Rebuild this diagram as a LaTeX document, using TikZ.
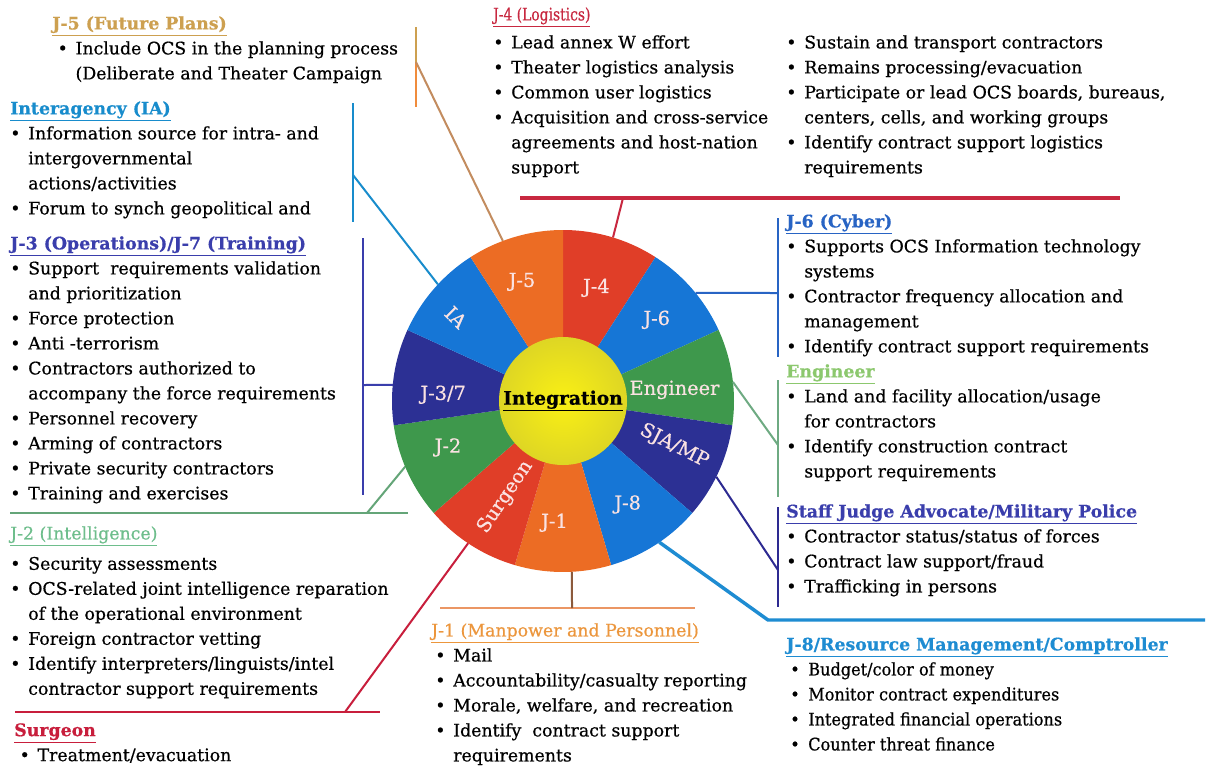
\documentclass[tikz,border=0pt]{standalone}
\usepackage{fontspec}
\setmainfont{DejaVu Serif}[FakeBold=0.6]
\newfontfamily\condfont{DejaVu Serif}[FakeStretch=0.93, FakeBold=0.6]
\newfontfamily\squeezefont{DejaVu Serif}[FakeStretch=0.8, FakeBold=0.6]
\usetikzlibrary{calc}

% wheel colours
\definecolor{segred}{RGB}{224,62,40}
\definecolor{segorange}{RGB}{236,108,36}
\definecolor{segsky}{RGB}{22,118,214}
\definecolor{segnavy}{RGB}{44,48,148}
\definecolor{seggreen}{RGB}{62,152,76}
\definecolor{wlabel}{RGB}{250,226,226}
% heading and line colours
\definecolor{plangold}{RGB}{205,160,80}
\definecolor{planorange}{RGB}{240,140,60}
\definecolor{planbrown}{RGB}{195,140,95}
\definecolor{iablue}{RGB}{24,140,204}
\definecolor{opsindigo}{RGB}{58,62,172}
\definecolor{intelmint}{RGB}{110,190,140}
\definecolor{intelgreen}{RGB}{100,165,120}
\definecolor{surgred}{RGB}{200,30,60}
\definecolor{logred}{RGB}{200,40,64}
\definecolor{cyberblue}{RGB}{40,100,196}
\definecolor{engleaf}{RGB}{140,200,110}
\definecolor{enggreen}{RGB}{110,170,130}
\definecolor{sjanavy}{RGB}{45,42,145}
\definecolor{finblue}{RGB}{30,140,210}
\definecolor{manamber}{RGB}{236,150,60}
\definecolor{manbrown}{RGB}{140,90,60}
\definecolor{mansalmon}{RGB}{235,150,100}

\newcommand{\bl}{\makebox[13.5pt][l]{\textbullet}}
\newcommand{\ind}{\hspace*{13.5pt}}
\newcommand{\head}[2]{\textcolor{#1}{\underline{#2}}}
\newcommand{\bhead}[2]{\textcolor{#1}{\underline{\bfseries #2}}}

\begin{document}
\begin{tikzpicture}[x=0.75pt, y=-0.75pt,
  block/.style={anchor=north west, align=left, inner sep=0pt,
    font=\fontsize{13}{18.75}\selectfont},
  narrow/.style={block, font=\condfont\fontsize{13}{18.75}\selectfont},
  wedge label/.style={text=wlabel, inner sep=0pt,
    font=\fontsize{14.5}{16}\selectfont},
  link/.style={line width=1.5pt},
  heavy link/.style={line width=2.6pt}]

  \fill[white] (0,0) rectangle (1209,768);
  \useasboundingbox (0,0) rectangle (1209,768);

  % the wheel: eleven wedges, clockwise from the top
  \coordinate (hub) at (563,401);
  \foreach \col [count=\i from 0] in {segred,segsky,seggreen,segnavy,segsky,
      segorange,segred,seggreen,segnavy,segsky,segorange} {
    \fill[\col] (hub) -- ($(hub)+({-90+\i*360/11}:171)$)
      arc[start angle={-90+\i*360/11}, delta angle={360/11}, radius=171] -- cycle;
  }
  \shade[inner color={rgb,255:red,250;green,240;blue,20},
    outer color={rgb,255:red,222;green,214;blue,36}] (hub) circle[radius=64];
  \node[font=\bfseries\fontsize{14}{16}\selectfont] (integ) at (hub) {\underline{Integration}};

  % wedge labels
  \node[wedge label] (lfour) at ($(hub)+(-73.6:118)$) {J-4};
  \node[wedge label] (lsix) at ($(hub)+(-40.9:124)$) {J-6};
  \node[wedge label] (leng) at ($(hub)+(-5.7:112)$) {Engineer};
  \node[wedge label, rotate=-27] (lsja) at ($(hub)+(22:120)$) {SJA/MP};
  \node[wedge label] (leight) at ($(hub)+(58:122)$) {J-8};
  \node[wedge label] (lone) at ($(hub)+(94:122)$) {J-1};
  \node[wedge label, rotate=56] (lsurg) at ($(hub)+(121:112)$) {Surgeon};
  \node[wedge label] (ltwo) at ($(hub)+(158:124)$) {J-2};
  \node[wedge label] (lthree) at ($(hub)+(183:120)$) {J-3/7};
  \node[wedge label, rotate=-45] (lia) at ($(hub)+(218:136)$) {IA};
  \node[wedge label] (lfive) at ($(hub)+(251:126)$) {J-5};

  % points on the rim where the links start
  \coordinate (wfive) at ($(hub)+(-110.6:171)$);
  \coordinate (wfour) at ($(hub)+(-73:171)$);
  \coordinate (wia) at ($(hub)+(-137:171)$);
  \coordinate (wthree) at ($(hub)+(-174.6:171)$);
  \coordinate (wtwo) at ($(hub)+(157.4:171)$);
  \coordinate (wsurg) at ($(hub)+(123.7:171)$);
  \coordinate (wone) at ($(hub)+(87:171)$);
  \coordinate (weight) at ($(hub)+(55.7:171)$);
  \coordinate (wsja) at ($(hub)+(26.3:171)$);
  \coordinate (weng) at ($(hub)+(-6.4:171)$);
  \coordinate (wsix) at ($(hub)+(-39.2:171)$);

  % J-5
  \node[block] (fivetext) at (52,16) {\bhead{plangold}{J-5 (Future Plans)}\\
    \hspace*{4pt}\bl Include OCS in the planning process\\
    \hspace*{4pt}\ind (Deliberate and Theater Campaign};
  \coordinate (fivetop) at (416,27);
  \coordinate (fivemid) at (416,62);
  \coordinate (fivebot) at (416,107);
  \draw[link, plangold] (fivetop) -- (fivemid);
  \draw[link, planorange] (fivemid) -- (fivebot);
  \draw[link, planbrown] (fivemid) -- (wfive);

  % Interagency
  \node[block] (iatext) at (10,101) {\bhead{iablue}{Interagency (IA)}\\
    \bl Information source for intra- and\\
    \ind intergovernmental\\
    \ind actions/activities\\
    \bl Forum to synch geopolitical and};
  \coordinate (iatop) at (353,103);
  \coordinate (iabot) at (353,222);
  \coordinate (iajoin) at (353,175);
  \draw[link, iablue] (iatop) -- (iabot);
  \draw[link, iablue] (iajoin) -- (wia);

  % J-3/J-7
  \node[block] (threetext) at (10,236) {\bhead{opsindigo}{J-3 (Operations)/J-7 (Training)}\\
    \bl Support\ \ requirements validation\\
    \ind and prioritization\\
    \bl Force protection\\
    \bl Anti -terrorism\\
    \bl Contractors authorized to\\
    \ind accompany the force requirements\\
    \bl Personnel recovery\\
    \bl Arming of contractors\\
    \bl Private security contractors\\
    \bl Training and exercises};
  \coordinate (threetop) at (363,238);
  \coordinate (threebot) at (363,495);
  \coordinate (threejoin) at (363,385);
  \draw[link, opsindigo] (threetop) -- (threebot);
  \draw[link, opsindigo] (threejoin) -- (wthree);

  % J-2
  \node[block] (twotext) at (10,526) {\head{intelmint}{J-2 (Intelligence)}\\[4pt]
    \bl Security assessments\\
    \bl OCS-related joint intelligence reparation\\
    \ind of the operational environment\\
    \bl Foreign contractor vetting\\
    \bl Identify interpreters/linguists/intel\\
    \ind contractor support requirements};
  \coordinate (twoleft) at (10,513);
  \coordinate (tworight) at (408,513);
  \coordinate (twojoin) at (367,513);
  \draw[link, intelgreen] (twoleft) -- (tworight);
  \draw[link, intelgreen] (twojoin) -- (wtwo);

  % Surgeon
  \node[block] (surgtext) at (14,723) {\bhead{surgred}{Surgeon}\\
    \hspace*{4pt}\bl Treatment/evacuation};
  \coordinate (surgleft) at (15,712);
  \coordinate (surgright) at (380,712);
  \coordinate (surgjoin) at (345,712);
  \draw[link, surgred] (surgleft) -- (surgright);
  \draw[link, surgred] (surgjoin) -- (wsurg);

  % J-4
  \node[block, font=\squeezefont\fontsize{13}{15}\selectfont] (fourhead) at (493,7)
    {\head{logred}{J-4 (Logistics)}};
  \node[block] (fourleft) at (493,35) {\bl Lead annex W effort\\
    \bl Theater logistics analysis\\
    \bl Common user logistics\\
    \bl Acquisition and cross-service\\
    \ind agreements and host-nation\\
    \ind support};
  \node[block] (fourright) at (786,35) {\bl Sustain and transport contractors\\
    \bl Remains processing/evacuation\\
    \bl Participate or lead OCS boards, bureaus,\\
    \ind centers, cells, and working groups\\
    \bl Identify contract support logistics\\
    \ind requirements};
  \coordinate (fourleftend) at (520,198);
  \coordinate (fourrightend) at (1120,198);
  \coordinate (fourjoin) at (623,198);
  \draw[heavy link, logred] (fourleftend) -- (fourrightend);
  \draw[link, logred] (fourjoin) -- (wfour);

  % J-6
  \node[block] (sixtext) at (786,214) {\bhead{cyberblue}{J-6 (Cyber)}\\
    \bl Supports OCS Information technology\\
    \ind systems\\
    \bl Contractor frequency allocation and\\
    \ind management\\
    \bl Identify contract support requirements};
  \coordinate (sixtop) at (778,218);
  \coordinate (sixbot) at (778,357);
  \coordinate (sixjoin) at (778,293);
  \draw[link, cyberblue] (sixtop) -- (sixbot);
  \draw[link, cyberblue] (wsix) -- (sixjoin);

  % Engineer
  \node[block] (engtext) at (786,364) {\bhead{engleaf}{Engineer}\\
    \bl Land and facility allocation/usage\\
    \ind for contractors\\
    \bl Identify construction contract\\
    \ind support requirements};
  \coordinate (engtop) at (778,380);
  \coordinate (engbot) at (778,497);
  \coordinate (engjoin) at (778,445);
  \draw[link, enggreen] (engtop) -- (engbot);
  \draw[link, enggreen] (weng) -- (engjoin);

  % Staff Judge Advocate / Military Police
  \node[block] (sjatext) at (786,504) {\bhead{opsindigo}{Staff Judge Advocate/Military Police}\\
    \bl Contractor status/status of forces\\
    \bl Contract law support/fraud\\
    \bl Trafficking in persons};
  \coordinate (sjatop) at (778,507);
  \coordinate (sjabot) at (778,607);
  \coordinate (sjajoin) at (778,570);
  \draw[link, sjanavy] (sjatop) -- (sjabot);
  \draw[link, sjanavy] (wsja) -- (sjajoin);

  % J-8
  \node[block] (eighthead) at (786,637) {\bhead{finblue}{J-8/Resource Management/Comptroller}};
  \node[narrow] (eighttext) at (786,662) {\hspace*{3pt}\bl Budget/color of money\\
    \hspace*{3pt}\bl Monitor contract expenditures\\
    \hspace*{3pt}\bl Integrated financial operations\\
    \hspace*{3pt}\bl Counter threat finance};
  \coordinate (eightleft) at (768,620);
  \coordinate (eightright) at (1205,620);
  \draw[heavy link, finblue] (weight) -- (eightleft) -- (eightright);

  % J-1
  \node[block] (onetext) at (431,623) {\head{manamber}{J-1 (Manpower and Personnel)}\\
    \hspace*{3pt}\bl Mail\\
    \hspace*{3pt}\bl Accountability/casualty reporting\\
    \hspace*{3pt}\bl Morale, welfare, and recreation\\
    \hspace*{3pt}\bl Identify\ \ contract support\\
    \hspace*{3pt}\ind requirements};
  \coordinate (oneleft) at (440,608);
  \coordinate (oneright) at (695,608);
  \coordinate (onejoin) at (572,608);
  \draw[link, mansalmon] (oneleft) -- (oneright);
  \draw[link, manbrown] (wone) -- (onejoin);
\end{tikzpicture}
\end{document}
